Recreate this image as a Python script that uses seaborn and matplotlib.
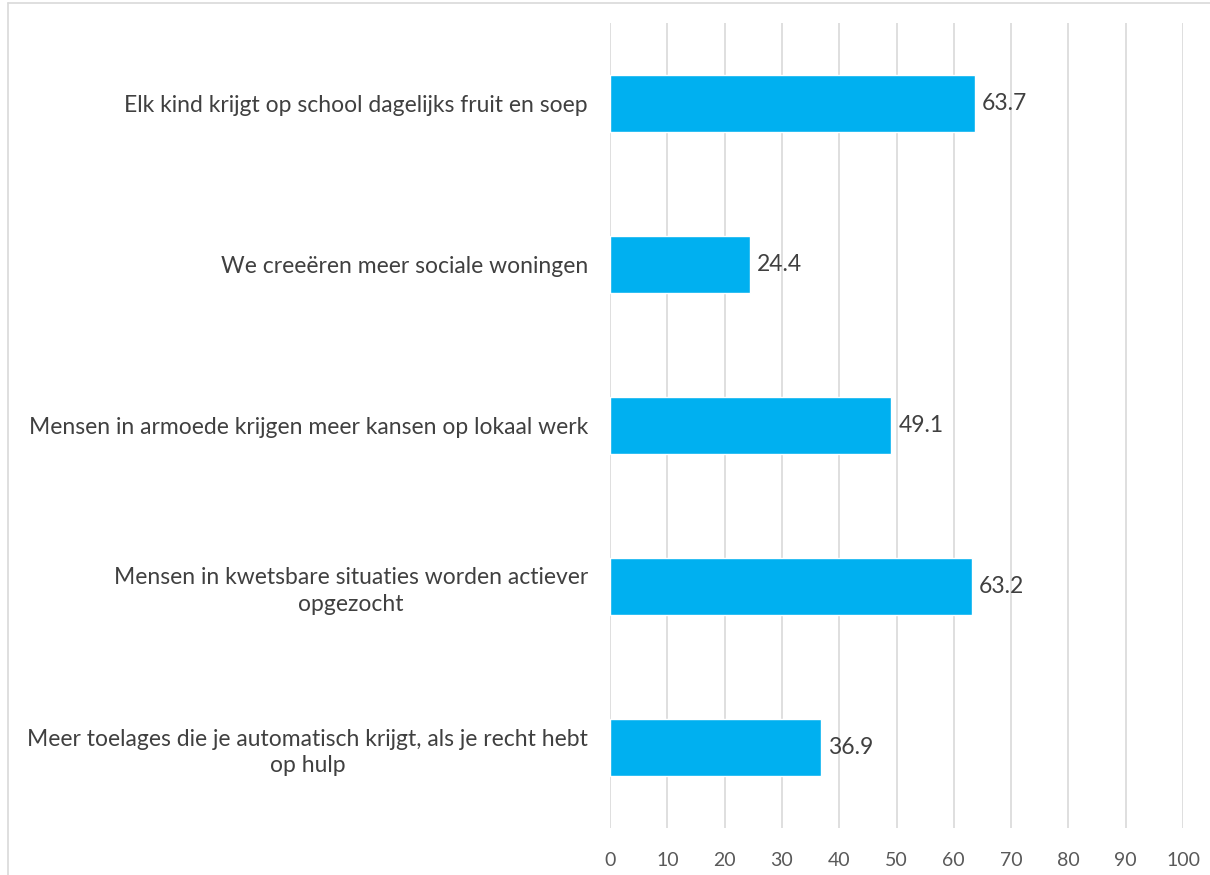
import matplotlib
matplotlib.use("Agg")
import matplotlib.pyplot as plt
import seaborn as sns
import pandas as pd
from matplotlib.lines import Line2D

# data (top to bottom)
categories = [
    "Elk kind krijgt op school dagelijks fruit en soep",
    "We creeëren meer sociale woningen",
    "Mensen in armoede krijgen meer kansen op lokaal werk",
    "Mensen in kwetsbare situaties worden actiever\nopgezocht",
    "Meer toelages die je automatisch krijgt, als je recht hebt\nop hulp",
]
values = [63.7, 24.4, 49.1, 63.2, 36.9]
x_ticks = list(range(0, 101, 10))

df = pd.DataFrame({"categorie": categories, "waarde": values})

sns.set_theme(style="white")
plt.rcParams["font.family"] = ["Lato", "DejaVu Sans"]

W, H = 1210, 875
fig = plt.figure(figsize=(W / 100, H / 100), dpi=100)
ax = fig.add_axes([610 / W, (H - 828) / H, 573 / W, 805 / H])

sns.barplot(data=df, x="waarde", y="categorie", orient="h",
            color="#00B0F0", saturation=1, width=0.355, ax=ax)

ax.set_xlim(0, 100)
ax.set_xticks(x_ticks)
ax.set_xlabel("")
ax.set_ylabel("")
ax.grid(axis="x", color="#D9D9D9", linewidth=1.2)
ax.set_axisbelow(True)
for s in ax.spines.values():
    s.set_visible(False)

ax.tick_params(axis="x", length=0, pad=17, labelsize=14, labelcolor="#595959")
ax.tick_params(axis="y", length=0, pad=16, labelsize=16.5, labelcolor="#404040")
for lab in ax.get_yticklabels():
    lab.set_multialignment("center")
    lab.set_linespacing(1.3)

# value labels
for i, v in enumerate(values):
    ax.annotate(f"{v:.1f}", xy=(v, i), xytext=(5, 0), textcoords="offset points",
                va="center", ha="left", fontsize=16.5, color="#404040")

# chart border (top and left visible)
fig.add_artist(Line2D([8 / W, 8 / W], [0, 1 - 3 / H], transform=fig.transFigure,
                      color="#D9D9D9", linewidth=1.2))
fig.add_artist(Line2D([8 / W, 1], [1 - 3 / H, 1 - 3 / H], transform=fig.transFigure,
                      color="#D9D9D9", linewidth=1.2))

fig.savefig("out.png", dpi=100)
